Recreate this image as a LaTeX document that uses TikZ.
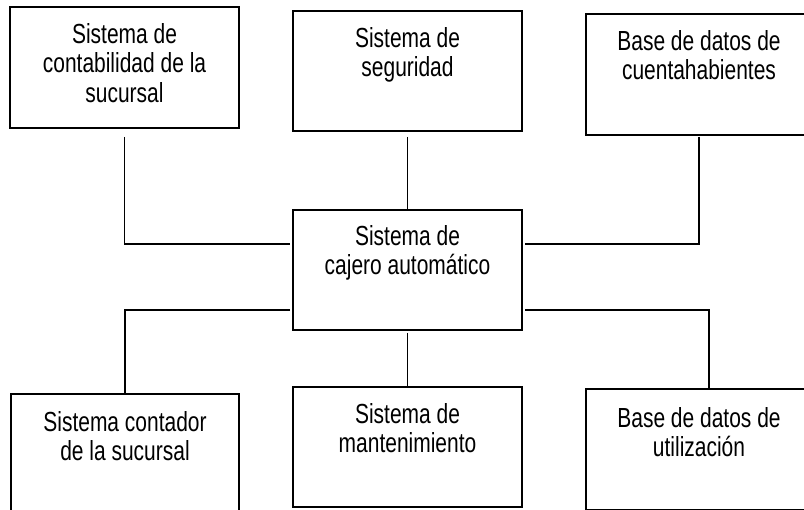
\documentclass[tikz,border=0pt]{standalone}
\usepackage{fontspec}
\setmainfont{Liberation Sans}[FakeStretch=0.76]
\begin{document}
\begin{tikzpicture}[x=1pt,y=-1pt,
  box/.style={draw, line width=1.3pt, inner sep=0pt, outer sep=0pt, minimum width=229pt, minimum height=120pt},
  txt/.style={anchor=north, inner sep=0pt, align=center, font=\fontsize{27.6}{29.5}\selectfont},
  conn/.style={line width=1.3pt}]
\clip (0,0) rectangle (804,510);
% boxes
\node[box, minimum height=121pt] (b1) at (124.5,67.5) {};
\node[box] (b2) at (407.5,71) {};
\node[box, minimum width=226pt, minimum height=121pt] (b3) at (699,74.5) {};
\node[box] (c) at (407.5,270) {};
\node[box, minimum width=228pt, minimum height=121pt] (b4) at (125,454.5) {};
\node[box] (b5) at (407.5,447) {};
\node[box, minimum width=226pt, minimum height=121pt] (b6) at (699,449.5) {};
% texts
\node[txt] (t1) at ([yshift=-16pt]b1.north) {Sistema de\\contabilidad de la\\sucursal};
\node[txt] (t2) at ([yshift=-16pt]b2.north) {Sistema de\\seguridad};
\node[txt] (t3) at ([yshift=-16pt]b3.north) {Base de datos de\\cuentahabientes};
\node[txt] (tc) at ([yshift=-15pt]c.north) {Sistema de\\cajero automático};
\node[txt] (t4) at ([yshift=-17pt]b4.north) {Sistema contador\\de la sucursal};
\node[txt] (t5) at ([yshift=-16pt]b5.north) {Sistema de\\mantenimiento};
\node[txt] (t6) at ([yshift=-18pt]b6.north) {Base de datos de\\utilización};
% connector end points
\path (c.north west) ++(-3,34) coordinate (cul);
\path (c.north east) ++(3,34) coordinate (cur);
\path (c.south west) ++(-3,-20) coordinate (cll);
\path (c.south east) ++(3,-20) coordinate (clr);
\path (b1.south) ++(0,9) coordinate (s1);
\path (b2.south) ++(0,6) coordinate (s2);
\path (b3.south) ++(0,2) coordinate (s3);
\path (c.south) ++(0,3) coordinate (sc);
\path (b6.north west) ++(123,0) coordinate (n6);
% connectors
\draw[conn] (s1) |- (cul);
\draw[conn] (s2) -- (c.north);
\draw[conn] (s3) |- (cur);
\draw[conn] (cll) -| (b4.north);
\draw[conn] (sc) -- (b5.north);
\draw[conn] (clr) -| (n6);
\end{tikzpicture}
\end{document}
